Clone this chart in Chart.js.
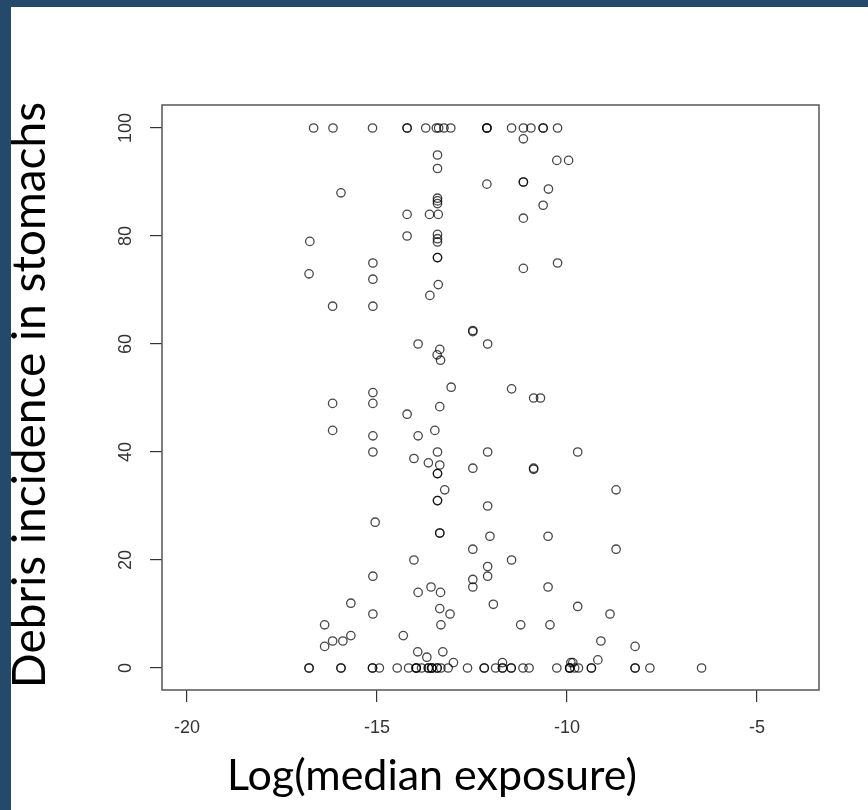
<!DOCTYPE html>
<html>
<head>
<meta charset="utf-8">
<script src="https://cdn.jsdelivr.net/npm/chart.js@4.4.1/dist/chart.umd.min.js"></script>
<style>
  html, body { margin: 0; padding: 0; background: #24496b; }
  #wrap { position: absolute; left: 11px; top: 7px; width: 857px; height: 803px; background: #fff; }
</style>
</head>
<body>
<div id="wrap"><canvas id="myChart"></canvas></div>
<script>
// log(median exposure) and debris incidence (%), pairwise
const exposure = [
  -16.67, -16.16, -15.12, -14.21, -14.21, -13.72, -13.44, -13.38, -13.24, -13.06,
  -12.11, -12.11, -12.11, -11.46, -11.15, -10.95, -10.63, -10.63, -10.25,
  -11.15, -13.41, -13.41, -10.27, -9.96, -12.11, -11.15, -11.15, -10.49, -15.95,
  -13.41, -13.41, -13.41, -10.63, -14.21, -13.62, -13.39, -11.15,
  -16.77, -14.21, -13.41, -13.41, -13.41, -13.41, -13.41, -15.11, -11.15, -10.25,
  -16.79, -15.11, -13.39, -13.61, -16.17, -15.11, -12.48, -12.48,
  -13.92, -12.09, -13.35, -13.42, -13.33, -13.05, -11.46, -10.88, -10.70, -15.11,
  -16.17, -15.11, -14.21, -13.35, -16.17, -15.11, -13.92, -13.48,
  -15.11, -14.03, -13.65, -13.41, -12.09, -9.72, -13.35, -13.41, -13.41, -12.48,
  -10.88, -10.88, -13.22, -13.41, -13.41, -12.09, -8.71, -15.05, -13.35, -13.35,
  -12.03, -10.50, -12.48, -8.71, -14.03, -11.46, -12.09,
  -15.11, -12.48, -12.48, -12.09, -10.50, -13.92, -13.58, -13.33,
  -15.69, -15.11, -11.94, -13.35, -13.08, -9.72, -8.87,
  -16.38, -13.32, -11.22, -10.45, -15.69, -16.17, -15.90, -16.38, -14.31,
  -13.93, -13.69, -13.27, -12.99, -11.70, -9.19, -9.11, -8.21, -9.90, -9.85,
  -16.79, -16.79, -15.95, -15.95, -15.12, -15.12, -14.94, -14.47, -14.17, -13.97,
  -13.97, -13.97, -13.83, -13.65, -13.65, -13.56, -13.56, -13.56, -13.42, -13.42,
  -13.32, -13.13, -12.62, -12.18, -12.18, -11.88, -11.70, -11.70, -11.47, -11.47,
  -11.16, -11.00, -10.27, -9.93, -9.93, -9.93, -9.80, -9.70, -9.36, -9.36,
  -8.21, -8.21, -7.82, -6.46
];
const incidence = [
  100, 100, 100, 100, 100, 100, 100, 100, 100, 100,
  100, 100, 100, 100, 100, 100, 100, 100, 100,
  98, 95, 92.5, 94, 94, 89.6, 90, 90, 88.7, 88,
  87, 86.5, 86, 85.7, 84, 84, 84, 83.3,
  79, 80, 80.3, 79.5, 78.9, 76, 76, 75, 74, 75,
  73, 72, 71, 69, 67, 67, 62.5, 62.3,
  60, 60, 59, 58, 57, 52, 51.7, 50, 50, 51,
  49, 49, 47, 48.4, 44, 43, 43, 44,
  40, 38.8, 38, 40, 40, 40, 37.6, 36, 36, 37,
  37, 36.8, 33, 31, 31, 30, 33, 27, 25, 25,
  24.4, 24.4, 22, 22, 20, 20, 18.8,
  17, 16.4, 15, 17, 15, 14, 15, 14,
  12, 10, 11.8, 11, 10, 11.4, 10,
  8, 8, 8, 8, 6, 5, 5, 4, 6,
  3, 2, 3, 1, 1, 1.5, 5, 4, 1, 1,
  0, 0, 0, 0, 0, 0, 0, 0, 0, 0,
  0, 0, 0, 0, 0, 0, 0, 0, 0, 0,
  0, 0, 0, 0, 0, 0, 0, 0, 0, 0,
  0, 0, 0, 0, 0, 0, 0, 0, 0, 0,
  0, 0, 0, 0
];
const xTicks = [-20, -15, -10, -5];
const yTicks = [0, 20, 40, 60, 80, 100];
const xTitle = "Log(median exposure)";
const yTitle = "Debris incidence in stomachs";

const points = exposure.map((x, i) => ({ x: x, y: incidence[i] }));

// R-style box round the plot and the two axis titles
const frame = {
  id: "frame",
  afterDraw(chart) {
    const { ctx, chartArea: a } = chart;
    ctx.save();
    ctx.strokeStyle = "#555";
    ctx.lineWidth = 1.5;
    ctx.strokeRect(a.left, a.top, a.right - a.left, a.bottom - a.top);
    ctx.fillStyle = "#000";
    ctx.textAlign = "center";
    ctx.textBaseline = "alphabetic";
    ctx.font = "43px Lato";
    ctx.fillText(xTitle, 421, 783);
    ctx.font = "46px Lato";
    ctx.translate(34, 388);
    ctx.rotate(-Math.PI / 2);
    ctx.fillText(yTitle, 0, 0);
    ctx.restore();
  }
};

const tickFont = { family: "'Liberation Sans', Arial", size: 18 };

new Chart(document.getElementById("myChart"), {
  type: "scatter",
  data: {
    datasets: [
      {
        data: points,
        pointStyle: "circle",
        pointRadius: 4.2,
        pointBorderWidth: 1.3,
        borderColor: "rgba(0,0,0,0.72)",
        backgroundColor: "rgba(0,0,0,0)",
      },
    ],
  },
  options: {
    responsive: true,
    maintainAspectRatio: false,
    animation: false,
    layout: { padding: { top: 98, right: 49, bottom: 60, left: 0 } },
    plugins: { legend: { display: false }, tooltip: { enabled: false } },
    scales: {
      x: {
        type: "linear",
        min: -20.66,
        max: -3.37,
        afterBuildTicks: (s) => { s.ticks = xTicks.map((v) => ({ value: v })); },
        afterFit: (s) => { s.height = 60; },
        border: { display: false },
        grid: { drawOnChartArea: false, drawTicks: true, tickLength: 12, color: "#333", lineWidth: 1.2 },
        ticks: { font: tickFont, color: "#333", padding: 15, maxRotation: 0, autoSkip: false },
      },
      y: {
        type: "linear",
        min: -4.07,
        max: 104.26,
        afterBuildTicks: (s) => { s.ticks = yTicks.map((v) => ({ value: v })); },
        afterFit: (s) => { s.width = 151; },
        border: { display: false },
        grid: { drawOnChartArea: false, drawTicks: true, tickLength: 12, color: "#333", lineWidth: 1.2 },
        ticks: { font: tickFont, color: "#333", padding: 9, minRotation: 90, maxRotation: 90, crossAlign: "center", autoSkip: false },
      },
    },
  },
  plugins: [frame],
});
</script>
</body>
</html>
